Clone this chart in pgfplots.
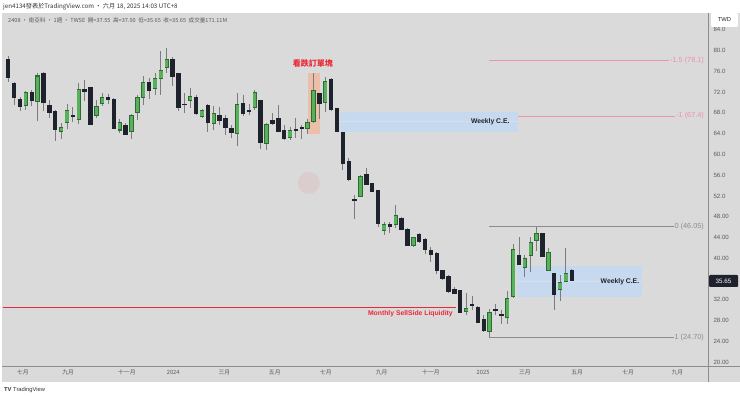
\documentclass[border=0pt]{standalone}
\usepackage{pgfplots}
\pgfplotsset{compat=1.18}
\usepackage{pgfplotstable}
\usepackage{fontspec}
\setmainfont{Liberation Sans}
\newfontfamily\cjk{Noto Sans CJK TC}
\definecolor{bg}{HTML}{DADADA}
\definecolor{wick}{HTML}{7C7C7C}
\definecolor{bullfill}{HTML}{57B15A}
\definecolor{bulledge}{HTML}{2E6B30}
\definecolor{bear}{HTML}{1E222D}
\definecolor{txtgray}{HTML}{5A5A5A}
\definecolor{fibgray}{HTML}{8C8C8C}
\definecolor{fibpink}{HTML}{EE93A8}
\definecolor{liqred}{RGB}{235,40,55}
\definecolor{cebox}{HTML}{C6D9EE}
\definecolor{obbox}{HTML}{EFBDA6}

\pgfplotstableread{
n o h l c
3 69.4 72.3 68.6 71.9
5 70.2 75.7 66.4 75.1
9 64.5 66.0 63.0 65.1
10 66.2 69.8 64.8 68.4
12 66.8 73.8 65.8 72.5
15 67.5 70.5 67.1 69.3
16 69.8 71.8 69.3 71.0
19 64.7 66.8 64.2 66.2
21 64.4 67.8 62.9 67.5
22 68.0 71.4 66.6 71.0
23 70.9 75.1 69.5 73.8
25 72.7 75.6 71.4 74.6
26 74.7 80.0 71.4 76.1
27 76.7 80.4 75.6 78.2
31 70.3 72.7 68.9 71.1
33 67.3 68.7 67.1 68.4
35 66.0 69.3 64.7 67.8
39 64.0 71.8 61.6 69.7
42 69.0 72.5 68.6 71.96
44 62.1 66.0 60.9 65.8
48 63.2 65.3 62.8 64.6
51 65.0 66.8 63.9 66.2
52 66.3 75.6 66.0 72.4
54 70.0 75.0 68.2 74.1
60 51.9 56.0 51.7 55.8
64 45.4 47.0 44.5 46.4
66 46.4 50.2 45.8 48.3
69 42.4 44.1 42.2 43.9
78 29.7 33.2 29.0 30.3
82 25.8 30.2 24.7 29.6
85 28.5 33.7 27.4 32.3
86 32.6 42.7 32.3 41.6
88 38.2 40.6 36.4 40.0
89 40.6 44.1 37.4 43.0
90 43.5 46.05 41.4 44.7
92 37.6 41.9 37.5 41.1
94 34.0 36.8 31.7 35.3
95 35.5 41.9 35.5 37.1
}\bull

\pgfplotstableread{
n o h l c
0 78.2 79.0 74.0 74.8
1 73.7 74.0 69.5 71.0
2 70.6 71.1 68.4 69.3
4 71.9 72.5 69.3 70.3
6 75.5 75.8 68.4 70.0
7 69.5 70.5 67.1 68.0
8 68.2 68.6 62.6 64.8
11 67.5 69.2 66.3 67.3
13 72.5 74.3 70.2 72.2
14 72.9 73.0 65.7 65.8
17 70.9 71.6 69.8 70.5
18 70.6 70.8 64.8 65.0
20 65.5 66.0 63.7 63.9
24 73.9 74.7 70.6 72.3
28 78.2 78.8 73.2 75.0
29 75.6 75.7 68.4 69.0
30 69.7 71.8 68.0 69.6
32 71.0 71.4 67.6 67.8
34 69.5 69.7 64.4 66.1
36 67.5 69.2 65.7 66.5
37 66.9 67.6 63.7 65.2
38 64.9 65.7 63.2 64.2
40 69.8 71.4 67.3 67.9
41 68.5 69.8 67.6 68.4
43 70.4 70.5 61.0 62.3
45 66.6 67.9 65.7 66.0
46 66.9 69.5 64.4 64.5
47 64.6 65.7 62.7 63.0
49 64.8 67.0 63.1 64.7
50 65.1 65.7 63.0 65.0
53 71.8 71.8 66.8 69.8
55 74.5 74.7 68.4 68.7
56 68.8 68.9 64.3 64.4
57 64.3 64.3 57.0 58.3
58 58.7 59.4 54.9 55.1
59 51.3 52.2 47.5 51.2
61 56.2 57.3 54.1 54.2
62 54.3 54.3 52.8 52.8
63 52.95 53.0 46.0 46.7
65 46.4 47.0 44.9 46.1
67 47.7 48.0 45.4 45.6
68 45.6 45.8 42.5 42.5
70 44.5 44.8 43.0 43.2
71 43.6 43.8 40.9 41.6
72 41.4 42.2 39.3 40.8
73 40.9 41.1 36.9 37.6
74 37.6 37.7 35.8 36.0
75 36.4 36.8 33.3 33.5
76 34.0 34.5 33.1 33.2
77 33.7 33.9 29.4 29.5
79 31.0 32.7 30.0 30.9
80 30.5 30.7 27.6 27.7
81 28.1 29.0 25.8 26.0
83 30.1 31.1 29.0 30.0
84 29.1 30.0 27.3 29.0
87 40.5 44.0 38.7 38.7
91 44.7 44.7 40.3 40.4
93 37.1 37.1 30.1 33.0
96 37.55 37.9 35.65 35.65
}\bear

\begin{document}
\begin{tikzpicture}[x=1pt,y=1pt]
\useasboundingbox (0,0) rectangle (740,396);
\fill[white] (0,0) rectangle (740,396);
\fill[bg] (2,14) rectangle (740,383);
\node[anchor=west,inner sep=0pt,text=black!80] at (3,389.5) {\cjk\fontsize{6.2}{7}\selectfont jen4134發表於TradingView.com · 六月 18, 2025 14:03 UTC+8};
\node[anchor=west,inner sep=0pt,text=black!80] at (4,6) {\fontsize{5.8}{7}\selectfont\textbf{TV} TradingView};
\begin{axis}[
  at={(3pt,30pt)}, anchor=south west, scale only axis,
  width=705pt, height=353pt,
  xmin=-0.9, xmax=119.2, ymin=19.23, ymax=87.24,
  axis line style={draw=none}, major tick length=0pt,
  xtick={2.5,10.2,20.2,28.1,36.8,45.4,54.1,63.6,72.0,80.9,88.0,96.9,105.6,114.0},
  xticklabels={七月,九月,十一月,2024,三月,五月,七月,九月,十一月,2025,三月,五月,七月,九月},
  xticklabel style={font=\cjk\fontsize{5.8}{7}\selectfont, text=txtgray, yshift=-0.5pt},
  ytick={20,24,28,32,40,44,48,52,56,60,64,68,72,76,80,84},
  yticklabels={20.00,24.00,28.00,32.00,40.00,44.00,48.00,52.0,56.0,60.0,64.0,68.0,72.0,76.0,80.0,84.0},
  yticklabel pos=right,
  yticklabel style={anchor=west, font=\fontsize{6.1}{7}\selectfont, text=txtgray, xshift=2pt},
  clip=false,
]
% order block
\fill[obbox, opacity=0.9] (axis cs:51.0,63.9) rectangle (axis cs:53.1,75.6);
% weekly C.E. boxes
\fill[cebox] (axis cs:56.5,64.4) rectangle (axis cs:86.8,68.2);
\draw[cebox!80!white, line width=0.6pt] (axis cs:56.5,66.3) -- (axis cs:86.8,66.3);
% fib lines
\draw[fibpink, line width=0.7pt] (axis cs:81.9,78.1) -- (axis cs:118.7,78.1);
\draw[fibpink, line width=0.7pt] (axis cs:86.8,67.4) -- (axis cs:118.7,67.4);
\draw[fibgray, line width=0.7pt] (axis cs:81.9,46.05) -- (axis cs:118.7,46.05);
\draw[fibgray, line width=0.7pt] (axis cs:81.9,24.7) -- (axis cs:118.7,24.7);
\fill[cebox] (axis cs:86.6,32.5) rectangle (axis cs:107.9,38.5);
\draw[cebox!80!white, line width=0.6pt] (axis cs:86.6,35.5) -- (axis cs:107.9,35.5);
% watermark
\fill[liqred, opacity=0.08] (axis cs:51.2,54.5) circle[radius=11pt];
% wicks
\addplot[draw=none, mark=none, forget plot, error bars/.cd, y dir=both, y explicit, error mark=none,
  error bar style={line width=0.9pt, draw=wick}]
  table[x=n, y expr={(\thisrow{h}+\thisrow{l})/2}, y error expr={(\thisrow{h}-\thisrow{l})/2}] {\bull};
\addplot[draw=none, mark=none, forget plot, error bars/.cd, y dir=both, y explicit, error mark=none,
  error bar style={line width=0.9pt, draw=wick}]
  table[x=n, y expr={(\thisrow{h}+\thisrow{l})/2}, y error expr={(\thisrow{h}-\thisrow{l})/2}] {\bear};
% bodies
\addplot[draw=none, mark=none, forget plot, error bars/.cd, y dir=both, y explicit, error mark=none,
  error bar style={line width=4.4pt, draw=bulledge}]
  table[x=n, y expr={(\thisrow{o}+\thisrow{c})/2}, y error expr={abs(\thisrow{o}-\thisrow{c})/2+0.1}] {\bull};
\addplot[draw=none, mark=none, forget plot, error bars/.cd, y dir=both, y explicit, error mark=none,
  error bar style={line width=3.2pt, draw=bullfill}]
  table[x=n, y expr={(\thisrow{o}+\thisrow{c})/2}, y error expr={max(abs(\thisrow{o}-\thisrow{c})/2-0.1,0.02)}] {\bull};
\addplot[draw=none, mark=none, forget plot, error bars/.cd, y dir=both, y explicit, error mark=none,
  error bar style={line width=4.4pt, draw=bear}]
  table[x=n, y expr={(\thisrow{o}+\thisrow{c})/2}, y error expr={abs(\thisrow{o}-\thisrow{c})/2+0.1}] {\bear};
% liquidity line
\fill[fill=liqred] (axis cs:-0.9,30.35) rectangle (axis cs:76.2,30.65);
% labels
\node[font=\cjk\bfseries\fontsize{8}{9}\selectfont, text=liqred] at (axis cs:51.9,77.5) {看跌訂單塊};
\node[font=\bfseries\fontsize{6.8}{8}\selectfont, text=bear] at (axis cs:82.1,66.2) {Weekly C.E.};
\node[font=\bfseries\fontsize{6.8}{8}\selectfont, text=bear] at (axis cs:104.2,35.4) {Weekly C.E.};
\node[font=\bfseries\fontsize{6.8}{8}\selectfont, text=liqred] at (axis cs:68.5,29.3) {Monthly SellSide Liquidity};
\node[anchor=east, inner sep=1pt, fill=bg, text=fibpink, font=\fontsize{7.3}{8}\selectfont] at (axis cs:118.7,78.1) {-1.5 (78.1)};
\node[anchor=east, inner sep=1pt, fill=bg, text=fibpink, font=\fontsize{7.3}{8}\selectfont] at (axis cs:118.7,67.4) {-1 (67.4)};
\node[anchor=east, inner sep=1pt, fill=bg, text=fibgray, font=\fontsize{7.3}{8}\selectfont] at (axis cs:118.7,46.05) {0 (46.05)};
\node[anchor=east, inner sep=1pt, fill=bg, text=fibgray, font=\fontsize{7.3}{8}\selectfont] at (axis cs:118.7,24.7) {1 (24.70)};
\end{axis}
% separators
\draw[black!45, line width=0.8pt] (708,14) -- (708,383);
\draw[black!45, line width=0.8pt] (2,30) -- (740,30);
% header inside chart
\node[anchor=west,inner sep=0pt,text=txtgray] at (8,376) {\cjk\fontsize{5.6}{7}\selectfont 2408 · 南亞科 · 1週 · TWSE\ \ 開=37.55\ \ 高=37.90\ \ 低=35.65\ \ 收=35.65\ \ 成交量171.11M};
% TWD box
\fill[white, rounded corners=1pt] (711,369) rectangle (738,383);
\node[text=black!85, font=\fontsize{5.8}{7}\selectfont] at (724.5,376) {TWD};
% current price tag
\fill[bear, rounded corners=1pt] (709,109) rectangle (738,121);
\node[text=white, font=\fontsize{6.3}{7}\selectfont] at (723.5,115) {35.65};
\end{tikzpicture}
\end{document}
